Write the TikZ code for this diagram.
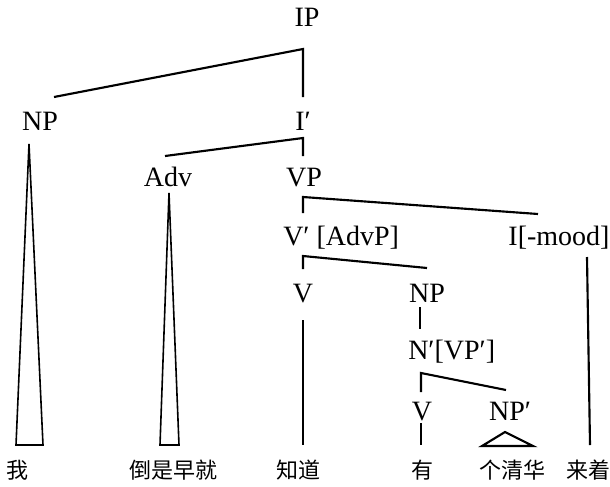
\documentclass[tikz,border=0pt]{standalone}
\usepackage{fontspec}
\setmainfont{Liberation Serif}
\newfontfamily\cjk{Noto Sans CJK SC}
\begin{document}
\begin{tikzpicture}[x=0.75pt,y=-0.75pt,
  lab/.style={font=\fontsize{21}{24}\selectfont, inner sep=0pt, anchor=base},
  word/.style={font=\cjk\fontsize{16.5}{20}\selectfont, inner sep=0pt, anchor=center},
  br/.style={line width=1.6pt},
  tri/.style={line width=1.2pt, line join=miter}]
\useasboundingbox (0,0) rectangle (610,486);
% category labels
\node[lab] (IP) at (307,26) {IP};
\node[lab] (NP) at (40,130) {NP};
\node[lab] (Ibar) at (303,130) {I′};
\node[lab] (Adv) at (168,186) {Adv};
\node[lab] (VP) at (304,186) {VP};
\node[lab,anchor=base west] (Vbar) at (283,245) {V′ [AdvP]};
\node[lab] (Imood) at (559,245) {I[-mood]};
\node[lab] (V1) at (303,302) {V};
\node[lab] (NP2) at (427,302) {NP};
\node[lab,anchor=base west] (Nbar) at (408,359) {N′[VP′]};
\node[lab] (V2) at (422,420) {V};
\node[lab] (NP3) at (510,420) {NP′};
% words
\node[word] (w1) at (18,470) {我};
\node[word] (w2) at (173,470) {倒是早就};
\node[word] (w3) at (298,470) {知道};
\node[word] (w4) at (422,470) {有};
\node[word] (w5) at (512,470) {个清华};
\node[word] (w6) at (588,470) {来着};
% junction points
\coordinate (ipj) at (303,49);
\coordinate (npt) at (54,97);
\coordinate (ibt) at (303,97);
\coordinate (ibj) at (303,138);
\coordinate (advt) at (165,156);
\coordinate (vpt) at (303,156);
\coordinate (vpj) at (303,197);
\coordinate (vbt) at (303,213);
\coordinate (imt) at (538,214);
\coordinate (vbj) at (303,256);
\coordinate (v1t) at (303,269);
\coordinate (np2t) at (427,268);
\coordinate (v1b) at (303,320);
\coordinate (w3t) at (303,445);
\coordinate (np2b) at (420,307);
\coordinate (nbt) at (420,329);
\coordinate (imb) at (587,257);
\coordinate (w6t) at (590,445);
\coordinate (nbj) at (421,373);
\coordinate (v2t) at (421,392);
\coordinate (np3t) at (506,390);
\coordinate (v2b) at (421,423);
\coordinate (w4t) at (421,445);
% branches
\draw[br] (npt) -- (ipj) -- (ibt);
\draw[br] (advt) -- (ibj) -- (vpt);
\draw[br] (vbt) -- (vpj) -- (imt);
\draw[br] (v1t) -- (vbj) -- (np2t);
\draw[br] (v1b) -- (w3t);
\draw[br] (np2b) -- (nbt);
\draw[br] (imb) -- (w6t);
\draw[br] (v2t) -- (nbj) -- (np3t);
\draw[br] (v2b) -- (w4t);
% triangles
\draw[tri] (29,144) -- (16,445) -- (43,445) -- cycle;
\draw[tri] (169,193) -- (160,445) -- (179,445) -- cycle;
\draw[br, line join=miter] (505,432) -- (482,446) -- (533,446) -- cycle;
\end{tikzpicture}
\end{document}
